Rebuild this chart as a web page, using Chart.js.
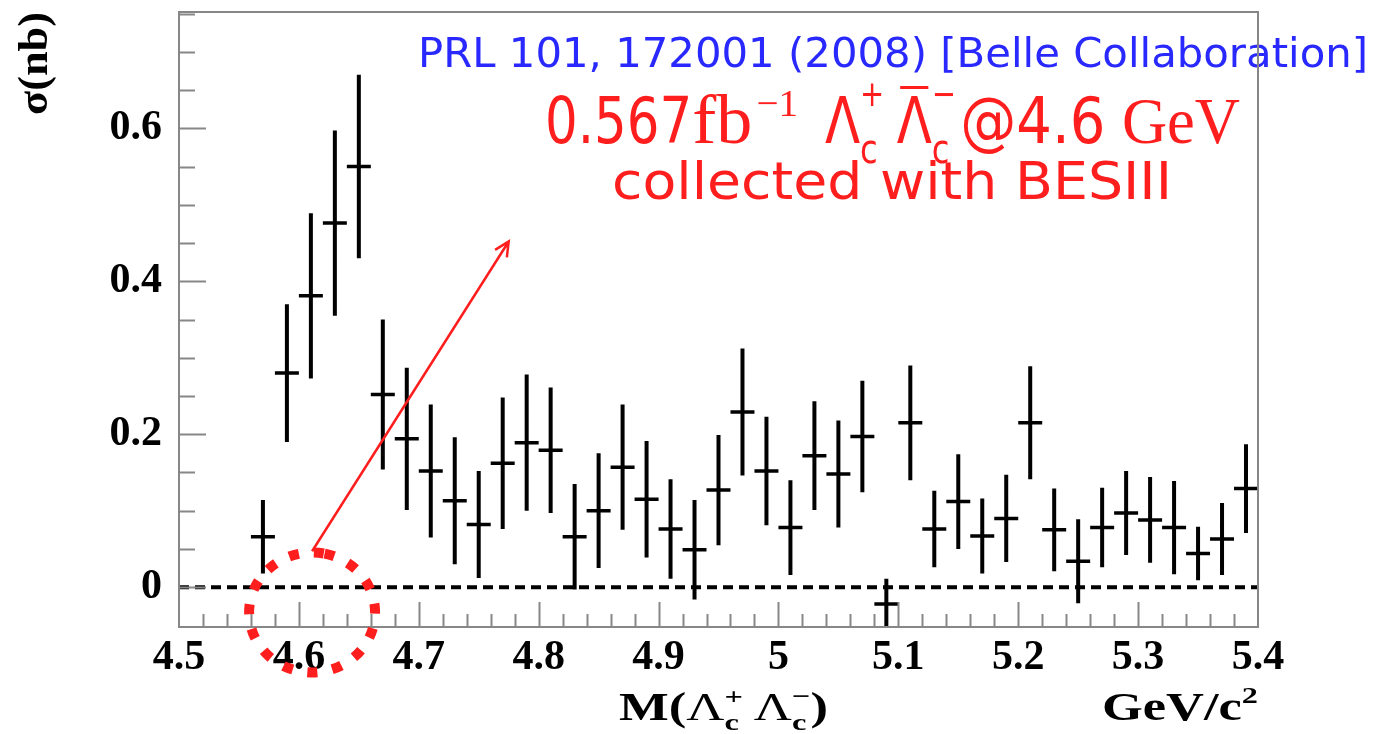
<!DOCTYPE html>
<html>
<head>
<meta charset="utf-8">
<title>Lambda_c pair cross section</title>
<script src="https://cdn.jsdelivr.net/npm/chart.js@4.4.1/dist/chart.umd.min.js"></script>
<style>
  html, body { margin: 0; padding: 0; background: #fff; }
  #wrap { width: 1375px; height: 734px; position: relative; }
</style>
</head>
<body>
<div id="wrap"><canvas id="xsecCanvas"></canvas></div>
<script>
"use strict";

// Belle e+e- -> Lambda_c+ Lambda_c- cross section, 20 MeV bins
const massBins = [
    4.57, 4.59, 4.61, 4.63, 4.65, 4.67, 4.69, 4.71, 4.73, 4.75,
    4.77, 4.79, 4.81, 4.83, 4.85, 4.87, 4.89, 4.91, 4.93, 4.95,
    4.97, 4.99, 5.01, 5.03, 5.05, 5.07, 5.09, 5.11, 5.13, 5.15,
    5.17, 5.19, 5.21, 5.23, 5.25, 5.27, 5.29, 5.31, 5.33, 5.35,
    5.37, 5.39
];
const sigma = [
    0.066, 0.280, 0.381, 0.476, 0.550, 0.252, 0.194, 0.152, 0.113, 0.082,
    0.162, 0.189, 0.179, 0.066, 0.100, 0.157, 0.115, 0.076, 0.049, 0.127,
    0.229, 0.152, 0.078, 0.172, 0.148, 0.197, -0.022, 0.215, 0.076, 0.112,
    0.067, 0.090, 0.215, 0.075, 0.034, 0.078, 0.097, 0.088, 0.078, 0.044,
    0.063, 0.129
];
const sigmaErr = [
    0.048, 0.090, 0.108, 0.121, 0.120, 0.098, 0.093, 0.087, 0.083, 0.070,
    0.086, 0.089, 0.082, 0.069, 0.075, 0.082, 0.076, 0.065, 0.065, 0.072,
    0.083, 0.071, 0.062, 0.071, 0.070, 0.073, 0.033, 0.075, 0.050, 0.062,
    0.049, 0.057, 0.074, 0.054, 0.055, 0.052, 0.055, 0.056, 0.061, 0.035,
    0.047, 0.058
];
const binHalfWidth = 0.01;

const xTickLabels = [4.5, 4.6, 4.7, 4.8, 4.9, 5.0, 5.1, 5.2, 5.3, 5.4];
const yTickLabels = [0, 0.2, 0.4, 0.6];

const SANS = '"DejaVu Sans"';
const SERIF = '"Liberation Serif"';

// vertical part of each error cross, broken by null points
function verticalBars() {
    const pts = [];
    massBins.forEach((m, i) => {
        pts.push({ x: m, y: sigma[i] - sigmaErr[i] });
        pts.push({ x: m, y: sigma[i] + sigmaErr[i] });
        pts.push({ x: m, y: null });
    });
    return pts;
}

function horizontalBars() {
    const pts = [];
    massBins.forEach((m, i) => {
        pts.push({ x: m - binHalfWidth, y: sigma[i] });
        pts.push({ x: m + binHalfWidth, y: sigma[i] });
        pts.push({ x: m, y: null });
    });
    return pts;
}

// draws a row of text pieces (each optionally condensed by sx),
// then squeezes the whole row to span x0..x1
function drawRuns(ctx, runs, x0, x1, baseline, color) {
    let natural = 0;
    runs.forEach(r => {
        r.w = r.gap || 0;
        (r.parts || []).forEach(p => {
            ctx.font = p.font;
            r.w = Math.max(r.w, ctx.measureText(p.text).width * (p.sx || 1));
        });
        natural += r.w;
    });
    const sx = (x1 - x0) / natural;
    ctx.save();
    ctx.translate(x0, baseline);
    ctx.scale(sx, 1);
    ctx.fillStyle = color;
    ctx.textAlign = 'left';
    ctx.textBaseline = 'alphabetic';
    let x = 0;
    runs.forEach(r => {
        (r.parts || []).forEach(p => {
            ctx.save();
            ctx.translate(x, p.dy || 0);
            ctx.scale(p.sx || 1, 1);
            ctx.font = p.font;
            ctx.fillText(p.text, 0, 0);
            ctx.restore();
        });
        if (r.overbar) {
            ctx.fillRect(x + r.w * 0.1, r.overbar, r.w * 0.8, 3);
        }
        x += r.w;
    });
    ctx.restore();
}

const annotationPlugin = {
    id: 'annotations',
    afterDatasetsDraw(chart) {
        const ctx = chart.ctx;
        const area = chart.chartArea;
        const xs = chart.scales.x;
        const ys = chart.scales.y;
        const red = 'rgb(255,30,30)';
        const narrow = 0.78;

        // reference and luminosity labels
        drawRuns(ctx, [
            { parts: [{ text: 'PRL 101, 172001 (2008) [Belle Collaboration]', font: '41px ' + SANS }] }
        ], 418, 1368, 67, 'rgb(40,40,255)');

        drawRuns(ctx, [
            { parts: [{ text: '0.567', font: '64px ' + SANS, sx: narrow }] },
            { parts: [{ text: 'fb', font: '70px ' + SERIF }] },
            { gap: 4 },
            { parts: [{ text: '\u22121', font: '38px ' + SERIF, dy: -27 }] },
            { gap: 26 },
            { parts: [{ text: 'Λ', font: '64px ' + SANS, sx: narrow }] },
            { parts: [
                { text: '+', font: '36px ' + SANS, dy: -37, sx: narrow },
                { text: 'c', font: '40px ' + SANS, dy: 20, sx: narrow }
            ] },
            { gap: 12 },
            { parts: [{ text: 'Λ', font: '64px ' + SANS, sx: narrow }], overbar: -57 },
            { parts: [
                { text: '\u2212', font: '36px ' + SANS, dy: -37, sx: narrow },
                { text: 'c', font: '40px ' + SANS, dy: 20, sx: narrow }
            ] },
            { gap: 4 },
            { parts: [{ text: '@4.6', font: '64px ' + SANS, sx: 0.85 }] },
            { gap: 16 },
            { parts: [{ text: 'GeV', font: '66px ' + SERIF, sx: 0.92 }] }
        ], 545, 1240, 143, red);

        drawRuns(ctx, [
            { parts: [{ text: 'collected with BESIII', font: '51px ' + SANS }] }
        ], 612, 1172, 199, red);

        // axis titles
        drawRuns(ctx, [
            { parts: [{ text: 'M(', font: 'bold 39px ' + SERIF }] },
            { parts: [{ text: 'Λ', font: '39px ' + SERIF }] },
            { parts: [
                { text: '+', font: 'bold 24px ' + SERIF, dy: -16 },
                { text: 'c', font: 'bold 24px ' + SERIF, dy: 10 }
            ] },
            { gap: 8 },
            { parts: [{ text: 'Λ', font: '39px ' + SERIF }] },
            { parts: [
                { text: '\u2212', font: 'bold 24px ' + SERIF, dy: -16 },
                { text: 'c', font: 'bold 24px ' + SERIF, dy: 10 }
            ] },
            { parts: [{ text: ')', font: 'bold 39px ' + SERIF }] }
        ], 619, 828, 720, '#000');

        drawRuns(ctx, [
            { parts: [{ text: 'GeV/c', font: 'bold 39px ' + SERIF }] },
            { parts: [{ text: '2', font: 'bold 24px ' + SERIF, dy: -17 }] }
        ], 1102, 1258, 720, '#000');

        ctx.save();
        ctx.translate(47, 115);
        ctx.rotate(-Math.PI / 2);
        drawRuns(ctx, [
            { parts: [{ text: 'σ(nb)', font: 'bold 42px ' + SERIF }] }
        ], 0, 103, 0, '#000');
        ctx.restore();

        // frame with inward tick marks
        ctx.save();
        ctx.strokeStyle = 'rgb(135,135,135)';
        ctx.lineWidth = 2;
        ctx.strokeRect(area.left, area.top, area.right - area.left, area.bottom - area.top);
        ctx.beginPath();
        for (let k = -1; k <= 15; k++) {
            const py = Math.round(ys.getPixelForValue(k * 0.05)) + 0.5;
            if (py < area.top + 2 || py > area.bottom - 2) continue;
            const len = k % 4 === 0 ? 27 : 16;
            ctx.moveTo(area.left, py);
            ctx.lineTo(area.left + len, py);
        }
        for (let k = 1; k < 45; k++) {
            const px = Math.round(xs.getPixelForValue(4.5 + k * 0.02)) + 0.5;
            const len = k % 5 === 0 ? 25 : 13;
            ctx.moveTo(px, area.bottom);
            ctx.lineTo(px, area.bottom - len);
        }
        ctx.stroke();
        ctx.restore();

        // arrow and dotted ring around the 4.6 GeV point
        const ax0 = xs.getPixelForValue(4.611), ay0 = ys.getPixelForValue(0.047);
        const ax1 = xs.getPixelForValue(4.775), ay1 = ys.getPixelForValue(0.452);
        const ang = Math.atan2(ay1 - ay0, ax1 - ax0);
        ctx.save();
        ctx.strokeStyle = red;
        ctx.lineWidth = 2.5;
        ctx.beginPath();
        ctx.moveTo(ax0, ay0);
        ctx.lineTo(ax1, ay1);
        ctx.moveTo(ax1 - 16 * Math.cos(ang - 0.45), ay1 - 16 * Math.sin(ang - 0.45));
        ctx.lineTo(ax1, ay1);
        ctx.lineTo(ax1 - 16 * Math.cos(ang + 0.45), ay1 - 16 * Math.sin(ang + 0.45));
        ctx.stroke();

        const cx = xs.getPixelForValue(4.611), cy = ys.getPixelForValue(-0.033);
        ctx.lineWidth = 10;
        ctx.setLineDash([10, 15]);
        ctx.beginPath();
        ctx.ellipse(cx, cy, 63, 60, 0, -Math.PI / 2 + 0.2, 1.5 * Math.PI + 0.2);
        ctx.stroke();
        ctx.restore();
    }
};

const tickFont = { family: SERIF, weight: 'bold', size: 42 };

new Chart(document.getElementById('xsecCanvas'), {
    type: 'scatter',
    data: {
        datasets: [
            {
                data: verticalBars(),
                showLine: true,
                borderColor: '#000',
                borderWidth: 4,
                pointRadius: 0,
                spanGaps: false
            },
            {
                data: horizontalBars(),
                showLine: true,
                borderColor: '#000',
                borderWidth: 3.5,
                pointRadius: 0,
                spanGaps: false
            },
            {
                data: [{ x: 4.5, y: 0 }, { x: 5.4, y: 0 }],
                showLine: true,
                borderColor: '#000',
                borderWidth: 4,
                borderDash: [10, 6],
                pointRadius: 0
            }
        ]
    },
    options: {
        responsive: true,
        maintainAspectRatio: false,
        animation: false,
        events: [],
        layout: { padding: { top: 12, right: 117, bottom: 0, left: 0 } },
        plugins: {
            legend: { display: false },
            tooltip: { enabled: false }
        },
        scales: {
            x: {
                type: 'linear',
                min: 4.5,
                max: 5.4,
                afterBuildTicks: scale => {
                    scale.ticks = xTickLabels.map(v => ({ value: v }));
                },
                afterFit: scale => {
                    scale.height = 107;
                    scale.paddingLeft = 0;
                    scale.paddingRight = 0;
                },
                grid: { display: false, drawTicks: false },
                border: { display: false },
                ticks: {
                    autoSkip: false,
                    maxRotation: 0,
                    minRotation: 0,
                    padding: 6,
                    color: '#000',
                    font: tickFont,
                    callback: value => String(value)
                }
            },
            y: {
                type: 'linear',
                min: -0.052,
                max: 0.752,
                afterBuildTicks: scale => {
                    scale.ticks = yTickLabels.map(v => ({ value: v }));
                },
                afterFit: scale => {
                    scale.width = 179;
                    scale.paddingTop = 0;
                    scale.paddingBottom = 0;
                },
                grid: { display: false, drawTicks: false },
                border: { display: false },
                ticks: {
                    padding: 17,
                    color: '#000',
                    font: tickFont,
                    callback: value => value === 0 ? '0' : value.toFixed(1)
                }
            }
        }
    },
    plugins: [annotationPlugin]
});
</script>
</body>
</html>
